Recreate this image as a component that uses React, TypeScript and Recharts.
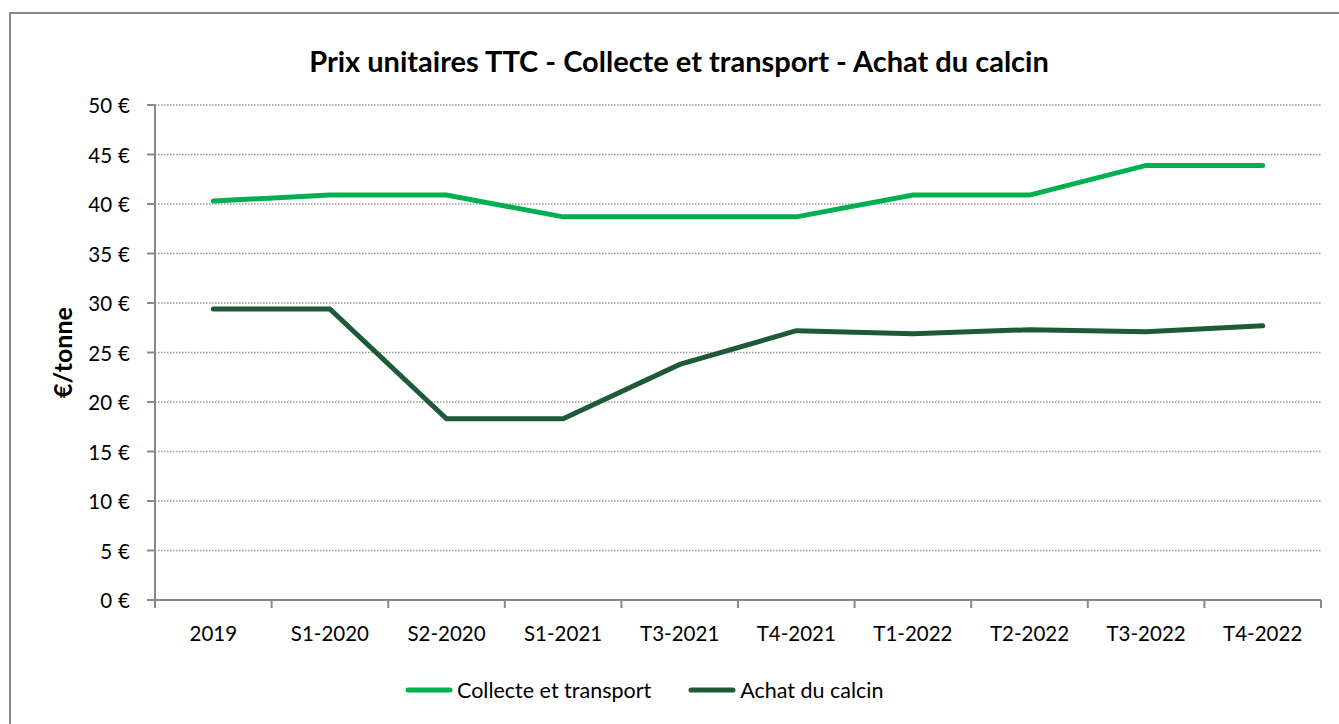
import React from "react";
import { LineChart, Line, XAxis, YAxis, CartesianGrid, Legend } from "recharts";

const categories = ["2019", "S1-2020", "S2-2020", "S1-2021", "T3-2021", "T4-2021", "T1-2022", "T2-2022", "T3-2022", "T4-2022"];
const collecte = [40.3, 40.9, 40.9, 38.7, 38.7, 38.7, 40.9, 40.9, 43.9, 43.9];
const achat = [29.4, 29.4, 18.3, 18.3, 23.8, 27.2, 26.9, 27.3, 27.1, 27.7];
const yTicks = [0, 5, 10, 15, 20, 25, 30, 35, 40, 45, 50];
const seriesOrder = ["collecte", "achat"];

const data = categories.map((c, i) => ({ cat: c, collecte: collecte[i], achat: achat[i] }));

const FONT = "Lato, 'Open Sans', sans-serif";
const W = 1339;
const H = 724;
const HALF = 58.3;
const AXIS = "#898989";

const XTick = (props: any) => {
  const { x, y, payload, index } = props;
  const last = index === categories.length - 1;
  return (
    <g>
      <line x1={x - HALF} y1={y} x2={x - HALF} y2={y + 8} stroke={AXIS} strokeWidth={2} />
      {last && <line x1={x + HALF} y1={y} x2={x + HALF} y2={y + 8} stroke={AXIS} strokeWidth={2} />}
      <text x={x} y={y + 41} textAnchor="middle" fontFamily={FONT} fontSize={20.5} fill="#000">
        {payload.value}
      </text>
    </g>
  );
};

const YTick = (props: any) => {
  const { x, y, payload } = props;
  return (
    <text x={x} y={y} textAnchor="end" dominantBaseline="central" fontFamily={FONT} fontSize={20.5} fill="#000">
      <tspan>{payload.value}</tspan>
      <tspan dx={6}>€</tspan>
    </text>
  );
};

const LegendContent = (props: any) => {
  const payload = [...(props.payload || [])].sort(
    (a: any, b: any) => seriesOrder.indexOf(a.dataKey) - seriesOrder.indexOf(b.dataKey)
  );
  return (
    <div style={{ display: "flex", alignItems: "center", height: 30, paddingLeft: 405, fontFamily: FONT, fontSize: 21.5, color: "#000" }}>
      {payload.map((p: any, i: number) => (
        <div key={i} style={{ display: "flex", alignItems: "center", marginRight: 37 }}>
          <svg width={48} height={10} style={{ marginRight: 4 }}>
            <line x1={3} y1={5} x2={45} y2={5} stroke={p.color} strokeWidth={5} strokeLinecap="round" />
          </svg>
          <span>{p.value}</span>
        </div>
      ))}
    </div>
  );
};

const YLabel = (props: any) => {
  const { viewBox } = props;
  const cx = viewBox.x + 42;
  const cy = viewBox.y + viewBox.height / 2;
  return (
    <text x={cx} y={cy} transform={`rotate(-90 ${cx} ${cy})`} textAnchor="middle" dominantBaseline="central" fontFamily={FONT} fontWeight="bold" fontSize={25} fill="#000">
      €/tonne
    </text>
  );
};

export default function App() {
  return (
    <div style={{ position: "fixed", left: 0, top: 0, width: W, height: H, overflow: "hidden", background: "#fff" }}>
      <div style={{ position: "absolute", left: 9, top: 12, width: 1400, height: 800, borderLeft: "2px solid #8a8a8a", borderTop: "2px solid #8a8a8a" }} />
      <svg width={W} height={H} style={{ position: "absolute", left: 0, top: 0 }}>
        <text x={679} y={72} textAnchor="middle" fontFamily={FONT} fontWeight="bold" fontSize={29} fill="#000">
          Prix unitaires TTC - Collecte et transport - Achat du calcin
        </text>
      </svg>
      <div style={{ position: "absolute", left: 0, top: 0 }}>
        <LineChart width={W} height={H} data={data} margin={{ top: 105, right: 18, left: 20, bottom: 19 }}>
          <CartesianGrid vertical={false} stroke="#9a9a9a" strokeDasharray="1.5 1.5" strokeWidth={1.5} />
          <XAxis
            dataKey="cat"
            height={75}
            padding={{ left: HALF, right: HALF }}
            tickLine={false}
            tickSize={0}
            tickMargin={0}
            axisLine={{ stroke: AXIS, strokeWidth: 2 }}
            tick={<XTick />}
            interval={0}
          />
          <YAxis
            width={135}
            domain={[0, 50]}
            ticks={yTicks}
            tickSize={8}
            tickMargin={17}
            tickLine={{ stroke: AXIS, strokeWidth: 2 }}
            axisLine={{ stroke: AXIS, strokeWidth: 2 }}
            tick={<YTick />}
            label={<YLabel />}
            interval={0}
          />
          <Legend verticalAlign="bottom" content={<LegendContent />} wrapperStyle={{ left: 0, width: W }} />
          <Line type="linear" dataKey="collecte" name="Collecte et transport" stroke="#00b050" strokeWidth={5} strokeLinecap="round" dot={false} activeDot={false} isAnimationActive={false} />
          <Line type="linear" dataKey="achat" name="Achat du calcin" stroke="#1e5a37" strokeWidth={5} strokeLinecap="round" dot={false} activeDot={false} isAnimationActive={false} />
        </LineChart>
      </div>
    </div>
  );
}
